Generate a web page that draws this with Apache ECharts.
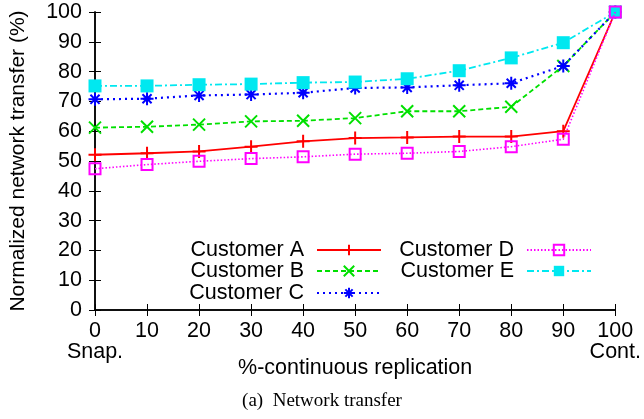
<!DOCTYPE html>
<html><head><meta charset="utf-8">
<script src="https://cdn.jsdelivr.net/npm/echarts@6/dist/echarts.min.js"></script>
<style>html,body{margin:0;padding:0;background:#fff}#c{width:644px;height:419px}</style>
</head><body><div id="c"></div>
<script>
var xValues = [0, 10, 20, 30, 40, 50, 60, 70, 80, 90, 100];
var customerA = [52.1, 52.6, 53.2, 54.8, 56.6, 57.7, 57.9, 58.2, 58.2, 60.0, 100];
var customerB = [61.2, 61.5, 62.2, 63.3, 63.5, 64.4, 66.7, 66.7, 68.2, 81.9, 100];
var customerC = [70.7, 70.9, 72.0, 72.3, 72.9, 74.5, 74.7, 75.4, 76.1, 81.9, 100];
var customerD = [47.4, 48.8, 49.9, 50.8, 51.4, 52.3, 52.6, 53.2, 54.8, 57.3, 100];
var customerE = [75.2, 75.2, 75.6, 75.8, 76.3, 76.5, 77.6, 80.3, 84.6, 89.7, 100];
var seriesNames = ['Customer A', 'Customer B', 'Customer C', 'Customer D', 'Customer E'];
var xTickExtra = {0: 'Snap.', 100: 'Cont.'};
var yLabel = 'Normalized network transfer (%)';
var xLabel = '%-continuous replication';
var caption = '(a)  Network transfer';

function pairs(ys) { return xValues.map(function (x, i) { return [x, ys[i]]; }); }

var FONT = 'Liberation Sans';
var SYM_PLUS = 'path://M5,0L5,10M0,5L10,5';
var SYM_X = 'path://M0,0L10,10M10,0L0,10';
var SYM_STAR = 'path://M5,0L5,10M0,5L10,5M1.5,1.5L8.5,8.5M8.5,1.5L1.5,8.5';

var styles = [
  {color: '#ff0000', dash: 'solid', width: 1.8, symbol: SYM_PLUS, size: 13, fill: 'rgba(0,0,0,0)'},
  {color: '#00e000', dash: [5, 3], width: 1.8, symbol: SYM_X, size: 12, fill: 'rgba(0,0,0,0)'},
  {color: '#0000ff', dash: [2, 4], width: 2.2, symbol: SYM_STAR, size: 13, fill: 'rgba(0,0,0,0)'},
  {color: '#ff00ff', dash: [1.5, 2], width: 1.6, symbol: 'rect', size: 11, fill: 'rgba(255,255,255,0)'},
  {color: '#00e8f0', dash: [7, 3, 2, 3], width: 1.8, symbol: 'rect', size: 13, fill: '#00e8f0'}
];
var dataSets = [customerA, customerB, customerC, customerD, customerE];

var series = seriesNames.map(function (n, i) {
  var s = styles[i];
  return {
    name: n, type: 'line', data: pairs(dataSets[i]),
    xAxisIndex: 0, yAxisIndex: 0,
    symbol: s.symbol, symbolSize: s.size, showAllSymbol: true,
    lineStyle: {color: s.color, width: s.width, type: s.dash},
    itemStyle: {color: s.fill, borderColor: s.color, borderWidth: i === 4 ? 0 : 2},
    emphasis: {disabled: true},
    animation: false,
    z: i === 3 ? 5 : 3
  };
});

var legendPos = [
  {right: 262, top: 239}, {right: 262, top: 260}, {right: 262, top: 282},
  {right: 52, top: 239}, {right: 52, top: 260}
];
var legends = seriesNames.map(function (n, i) {
  return {
    data: [n], right: legendPos[i].right, top: legendPos[i].top,
    align: 'right', itemWidth: 64, itemHeight: 13, padding: 0,
    selectedMode: false,
    textStyle: {fontFamily: FONT, fontSize: 21.5, color: '#000', padding: [0, 8, 0, 0]}
  };
});

var axisLineStyle = {lineStyle: {color: '#000', width: 1.5}};
var chart = echarts.init(document.getElementById('c'), null, {renderer: 'canvas'});
chart.setOption({
  backgroundColor: '#fff',
  animation: false,
  grid: {left: 94, right: 26, top: 12, bottom: 109},
  legend: legends,
  xAxis: [{
    type: 'value', min: 0, max: 100, interval: 10, position: 'bottom',
    name: xLabel, nameLocation: 'middle', nameGap: 47, nameMoveOverlap: false,
    nameTextStyle: {fontFamily: FONT, fontSize: 21.5, color: '#000'},
    axisLine: axisLineStyle,
    axisTick: {inside: true, length: 6, lineStyle: {color: '#000', width: 1}},
    axisLabel: {
      fontFamily: FONT, fontSize: 21.5, color: '#000', margin: 11, lineHeight: 21,
      formatter: function (v) { return xTickExtra[v] ? v + '\n' + xTickExtra[v] : String(v); }
    },
    splitLine: {show: false}
  }, {
    type: 'value', min: 0, max: 100, interval: 10, position: 'top',
    axisLine: axisLineStyle,
    axisTick: {inside: true, length: 6, lineStyle: {color: '#000', width: 1}},
    axisLabel: {show: false}, splitLine: {show: false}
  }],
  yAxis: [{
    type: 'value', min: 0, max: 100, interval: 10, position: 'left',
    name: yLabel, nameLocation: 'middle', nameGap: 66, nameRotate: 90, nameMoveOverlap: false,
    nameTextStyle: {fontFamily: FONT, fontSize: 21, color: '#000'},
    axisLine: axisLineStyle,
    axisTick: {inside: true, length: 6, lineStyle: {color: '#000', width: 1}},
    axisLabel: {fontFamily: FONT, fontSize: 21.5, color: '#000', margin: 13},
    splitLine: {show: false}
  }, {
    type: 'value', min: 0, max: 100, interval: 10, position: 'right',
    axisLine: axisLineStyle,
    axisTick: {inside: true, length: 6, lineStyle: {color: '#000', width: 1}},
    axisLabel: {show: false}, splitLine: {show: false}
  }],
  graphic: [{
    type: 'text', left: 'center', top: 392,
    style: {text: caption, fontFamily: 'Liberation Serif', fontSize: 19, fill: '#000'}
  }],
  series: series
});
</script>
</body></html>
